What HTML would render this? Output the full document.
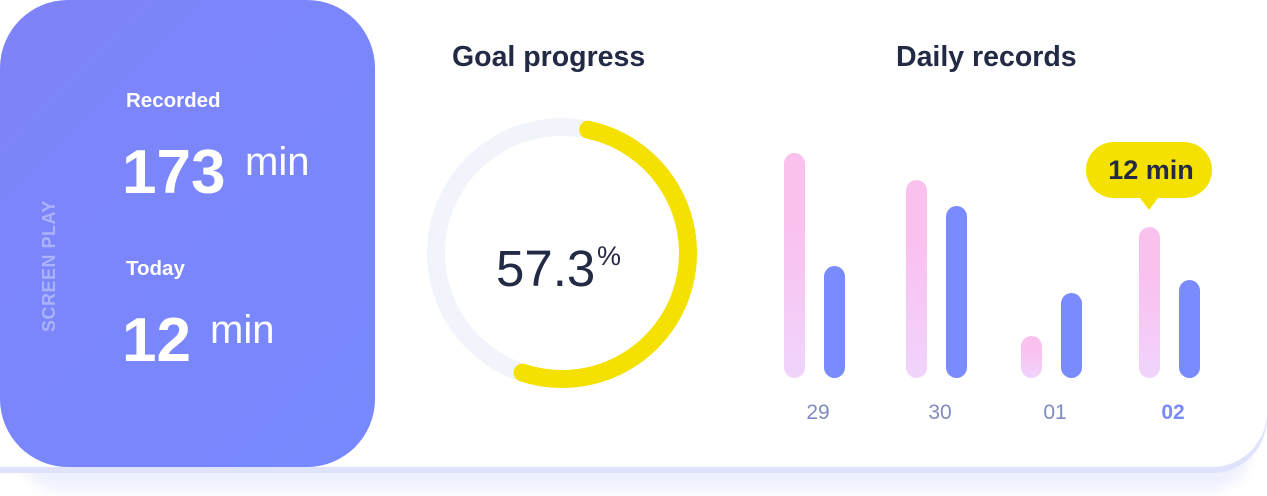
<!DOCTYPE html>
<html><head><meta charset="utf-8"><style>
html,body{margin:0;padding:0;background:#fff;width:1267px;height:496px;overflow:hidden;font-family:"Liberation Sans",sans-serif}
.shadow{position:absolute;left:20px;top:440px;width:1230px;height:50px;background:#eef0fd;border-radius:0 0 40px 40px;filter:blur(6px)}
.card{position:absolute;left:0;top:0;width:1267px;height:467px;background:#fff;border-radius:0 55px 55px 0;box-shadow:0 6px 0 #e0e3fc}
.panel{position:absolute;left:0;top:0;width:375px;height:467px;border-radius:68px;background:linear-gradient(135deg,#7e84f7,#7788fe);color:#fff}
.t{position:absolute;white-space:nowrap}
</style></head><body>
<div class="shadow"></div>
<div class="card"></div>
<div class="panel">
 <div class="t" style="left:39px;top:332px;transform:rotate(-90deg);transform-origin:0 0;font-size:18px;font-weight:bold;color:#aab3fb;letter-spacing:0.5px">SCREEN PLAY</div>
 <div class="t" style="left:126px;top:89px;font-size:20.5px;font-weight:bold">Recorded</div>
 <div class="t" style="left:122px;top:137px;font-size:62px;font-weight:bold">173</div>
 <div class="t" style="left:245px;top:140px;font-size:40px">min</div>
 <div class="t" style="left:126px;top:257px;font-size:20.5px;font-weight:bold">Today</div>
 <div class="t" style="left:122px;top:305px;font-size:62px;font-weight:bold">12</div>
 <div class="t" style="left:210px;top:308px;font-size:40px">min</div>
</div>
<div class="t" style="left:452px;top:41px;font-size:28.5px;font-weight:bold;color:#232a45">Goal progress</div>
<div class="t" style="left:896px;top:41px;font-size:28.5px;font-weight:bold;color:#232a45">Daily records</div>
<svg id="chart" width="1267" height="496" style="position:absolute;left:0;top:0">
 <defs><linearGradient id="pg" x1="0" y1="0" x2="0" y2="1"><stop offset="0.3" stop-color="#fac0ee"/><stop offset="1" stop-color="#f0d4fc"/></linearGradient></defs>
</svg>
<script>
const goalPercent = 57.3;
const categories = ["29","30","01","02"];
const recordedValues = [225,198,42,151];
const todayValues = [112,172,85,98];
const tooltipText = "12 min";
const NS="http://www.w3.org/2000/svg";
const svg=document.getElementById('chart');
function mk(t,a){const e=document.createElementNS(NS,t);for(const k in a)e.setAttribute(k,a[k]);svg.appendChild(e);return e;}
// donut
const cx=562,cy=253,r=126;
const track=mk('circle',{cx:cx,cy:cy,r:r,fill:'none',stroke:'#f1f4fa','stroke-width':18});


const a0=12, a1=a0+goalPercent/100*325;
function pt(a){const rad=a*Math.PI/180;return [cx+r*Math.sin(rad),cy-r*Math.cos(rad)];}
const p0=pt(a0),p1=pt(a1);
const arc=mk('path',{d:`M${p0[0]},${p0[1]} A${r},${r} 0 ${a1-a0>180?1:0} 1 ${p1[0]},${p1[1]}`,fill:'none',stroke:'#f5e100','stroke-width':18,'stroke-linecap':'round'});


const pv=mk('text',{x:496,y:286,'font-size':51,fill:'#232a45','font-family':'Liberation Sans, sans-serif'});
pv.textContent=goalPercent.toFixed(1);


const ps=mk('text',{x:597,y:265,'font-size':27,fill:'#232a45','font-family':'Liberation Sans, sans-serif'});
ps.textContent='%';


// bars
const base=378, scale=1, bw=21;
const groupX=[784,906,1021,1139];
function y(v){return base-v*scale;}
categories.forEach((c,i)=>{
 const x=groupX[i];
 const b1=mk('rect',{x:x,y:y(recordedValues[i]),width:bw,height:recordedValues[i]*scale,rx:10.5,fill:'url(#pg)'});
 
 
 const b2=mk('rect',{x:x+40,y:y(todayValues[i]),width:bw,height:todayValues[i]*scale,rx:10.5,fill:'#7a8bfd'});
 
 
 const last=i===categories.length-1;
 const lb=mk('text',{x:x+34,y:419,'text-anchor':'middle','font-size':21,fill:last?'#7a8bfd':'#7f8bbf','font-weight':last?'bold':'normal','font-family':'Liberation Sans, sans-serif'});
 lb.textContent=c;
 
 
});
// tooltip
const li=categories.length-1, tx=groupX[li]+10;
const tipBottom=y(recordedValues[li])-29, tipTop=tipBottom-56;
const tip=mk('path',{d:`M${tx-35},${tipTop} h70 a28,28 0 0 1 0,56 h-26 l-9,12 l-9,-12 h-26 a28,28 0 0 1 0,-56 z`,fill:'#f5e100'});


const tt=mk('text',{x:tx+2,y:tipTop+37,'text-anchor':'middle','font-size':27,'font-weight':'bold',fill:'#232a45','font-family':'Liberation Sans, sans-serif'});
tt.textContent=tooltipText;


</script>
</body></html>
